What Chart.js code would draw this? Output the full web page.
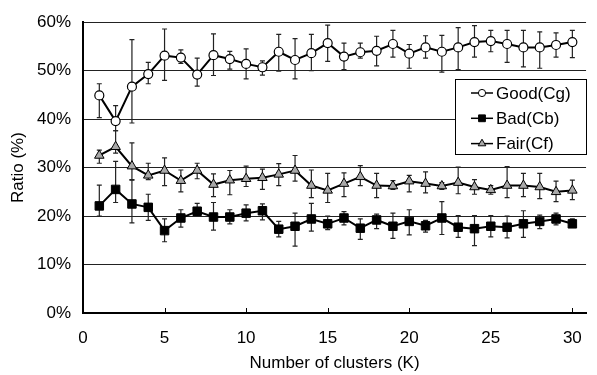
<!DOCTYPE html>
<html>
<head>
<meta charset="utf-8">
<script src="https://cdn.jsdelivr.net/npm/chart.js@4.4.1/dist/chart.umd.min.js"></script>
<style>
  html, body { margin: 0; padding: 0; background: #fff; }
  #wrap { width: 597px; height: 375px; position: relative; }
</style>
</head>
<body>
<div id="wrap"><canvas id="ratioChart"></canvas></div>
<script>
var ks = [1,2,3,4,5,6,7,8,9,10,11,12,13,14,15,16,17,18,19,20,21,22,23,24,25,26,27,28,29,30];
var xTicks = [0,5,10,15,20,25,30];

var good   = [44.9,39.6,46.7,49.3,53.1,52.7,49.2,53.2,52.4,51.4,50.7,53.9,52.2,53.6,55.7,52.9,53.8,54.1,55.5,53.5,54.8,53.9,54.8,55.9,56.1,55.5,54.8,54.8,55.3,55.9];
var goodHi = [47.3,42.8,56.4,51.7,58.6,54.3,52.6,57.6,54.0,54.5,52.0,57.5,56.6,57.5,59.4,55.7,55.7,57.1,58.3,55.4,57.2,57.3,58.9,59.3,58.3,58.3,58.3,58.0,57.8,58.3];
var goodLo = [40.3,37.6,39.2,47.3,48.0,51.5,46.8,49.0,50.3,48.3,49.1,49.9,48.3,50.0,51.9,50.2,52.6,51.0,52.8,50.5,52.6,49.7,50.2,52.8,53.9,51.7,50.8,50.5,52.8,52.7];

var bad   = [22.1,25.5,22.5,21.8,17.0,19.6,21.0,19.8,19.8,20.6,21.1,17.3,17.9,19.4,18.4,19.6,17.5,19.2,17.9,18.9,18.0,19.6,17.7,17.4,17.9,17.7,18.4,18.9,19.4,18.4];
var badHi = [26.4,31.3,27.4,24.5,19.4,21.3,22.6,22.8,21.3,22.3,22.5,18.9,20.6,22.6,20.0,20.9,19.4,20.4,20.6,21.3,19.1,23.0,20.1,20.1,20.1,20.0,21.1,20.2,20.6,19.4];
var badLo = [20.0,22.8,18.6,19.1,14.7,17.7,20.0,17.1,18.4,19.0,19.2,15.7,13.8,16.9,17.2,18.2,15.2,17.4,15.4,16.1,16.7,16.2,15.6,13.9,15.7,15.5,15.6,17.4,18.2,17.7];

var fair   = [32.5,34.3,30.3,28.4,29.4,27.3,29.4,26.5,27.4,27.7,27.9,28.6,29.4,26.3,25.3,26.7,28.1,26.3,26.2,27.2,26.7,26.2,26.9,26.0,25.4,26.3,26.3,26.0,25.0,25.3];
var fairHi = [33.6,37.6,35.1,30.9,32.0,29.5,30.9,28.7,29.4,30.3,29.7,30.8,32.5,29.5,28.8,28.9,30.4,28.8,27.3,28.4,29.1,26.9,30.1,27.5,26.3,30.2,28.8,28.8,27.2,27.4];
var fairLo = [30.9,33.0,27.5,27.5,26.3,25.0,27.7,24.0,24.4,26.1,25.5,26.3,27.2,23.8,22.8,24.0,26.3,23.8,25.5,25.0,24.8,25.5,24.6,24.5,24.5,23.8,24.0,23.6,23.0,23.4];

var FONT = "'Liberation Sans', Arial, Helvetica, sans-serif";

function toPoints(vals){
  var out = [];
  for (var i = 0; i < ks.length; i++){
    out.push({x: ks[i], y: vals[i]});
  }
  return out;
}

// error bars under the markers
var errorBars = {
  id: 'errorBars',
  beforeDatasetsDraw: function(chart){
    var ctx = chart.ctx;
    var xs = chart.scales.x, ys = chart.scales.y;
    ctx.save();
    ctx.strokeStyle = '#222';
    ctx.lineWidth = 1.2;
    chart.data.datasets.forEach(function(ds){
      for (var i = 0; i < ks.length; i++){
        var px = xs.getPixelForValue(ks[i]);
        var top = ys.getPixelForValue(ds.errHi[i]);
        var bot = ys.getPixelForValue(ds.errLo[i]);
        ctx.beginPath();
        ctx.moveTo(px, top); ctx.lineTo(px, bot);
        ctx.moveTo(px - 2.5, top); ctx.lineTo(px + 2.5, top);
        ctx.moveTo(px - 2.5, bot); ctx.lineTo(px + 2.5, bot);
        ctx.stroke();
      }
    });
    ctx.restore();
  }
};

// small tick marks pointing up into the plot, and the boxed legend
var extras = {
  id: 'extras',
  afterDraw: function(chart){
    var ctx = chart.ctx;
    var xs = chart.scales.x;
    var area = chart.chartArea;
    ctx.save();
    ctx.strokeStyle = '#000';
    ctx.lineWidth = 1;
    xTicks.forEach(function(v){
      var px = Math.round(xs.getPixelForValue(v)) + 0.5;
      ctx.beginPath();
      ctx.moveTo(px, area.bottom);
      ctx.lineTo(px, area.bottom - 5);
      ctx.stroke();
    });

    var bx = 455.5, by = 79.5, bw = 131, bh = 75;
    ctx.fillStyle = '#fff';
    ctx.fillRect(bx, by, bw, bh);
    ctx.strokeRect(bx, by, bw, bh);
    ctx.font = '17px ' + FONT;
    ctx.textBaseline = 'middle';
    chart.data.datasets.forEach(function(ds, i){
      var cy = 93 + i * 25.3;
      ctx.strokeStyle = '#000';
      ctx.lineWidth = 1.5;
      ctx.beginPath();
      ctx.moveTo(471, cy); ctx.lineTo(493, cy);
      ctx.stroke();
      ctx.fillStyle = ds.pointBackgroundColor;
      ctx.lineWidth = 1;
      Chart.helpers.drawPoint(ctx, {
        pointStyle: ds.pointStyle, radius: ds.pointRadius * 0.8, borderWidth: 1
      }, 482, cy);
      ctx.fillStyle = '#000';
      ctx.fillText(ds.label, 496, cy + 1);
    });
    ctx.restore();
  }
};

var ctx = document.getElementById('ratioChart');
var chart = new Chart(ctx, {
  type: 'line',
  data: {
    datasets: [
      {
        label: 'Good(Cg)',
        data: toPoints(good),
        errHi: goodHi, errLo: goodLo,
        borderColor: '#000', borderWidth: 2,
        pointStyle: 'circle', pointRadius: 4.5,
        pointBackgroundColor: '#fff', pointBorderColor: '#000', pointBorderWidth: 1.2
      },
      {
        label: 'Bad(Cb)',
        data: toPoints(bad),
        errHi: badHi, errLo: badLo,
        borderColor: '#000', borderWidth: 2,
        pointStyle: 'rect', pointRadius: 6,
        pointBackgroundColor: '#000', pointBorderColor: '#000', pointBorderWidth: 1
      },
      {
        label: 'Fair(Cf)',
        data: toPoints(fair),
        errHi: fairHi, errLo: fairLo,
        borderColor: '#000', borderWidth: 2,
        pointStyle: 'triangle', pointRadius: 5.5,
        pointBackgroundColor: '#a8a8a8', pointBorderColor: '#000', pointBorderWidth: 1
      }
    ]
  },
  options: {
    responsive: true,
    maintainAspectRatio: false,
    animation: false,
    events: [],
    layout: { padding: { top: 17, right: 0, left: 0, bottom: 0 } },
    plugins: {
      legend: { display: false },
      tooltip: { enabled: false }
    },
    scales: {
      x: {
        type: 'linear',
        min: 0,
        max: 30.84,
        afterBuildTicks: function(scale){
          scale.ticks = xTicks.map(function(v){ return {value: v}; });
        },
        afterFit: function(scale){ scale.height = 62; },
        grid: { display: false, drawTicks: false },
        border: { display: true, color: '#000', width: 2 },
        ticks: {
          color: '#000', padding: 15, maxRotation: 0,
          font: { family: FONT, size: 17 }
        },
        title: {
          display: true, text: 'Number of clusters (K)', color: '#000',
          font: { family: FONT, size: 17 },
          padding: { top: 0, bottom: 1 }
        }
      },
      y: {
        min: 0,
        max: 60,
        afterFit: function(scale){ scale.width = 83; },
        grid: { color: '#222', lineWidth: 1, drawTicks: false },
        border: { display: true, color: '#000', width: 2 },
        ticks: {
          stepSize: 10, color: '#000', padding: 12,
          font: { family: FONT, size: 17 },
          callback: function(v){ return v + '%'; }
        },
        title: {
          display: true, text: 'Ratio (%)', color: '#000',
          font: { family: FONT, size: 17 },
          padding: { top: 8, bottom: 0 }
        }
      }
    }
  },
  plugins: [errorBars, extras]
});
</script>
</body>
</html>
